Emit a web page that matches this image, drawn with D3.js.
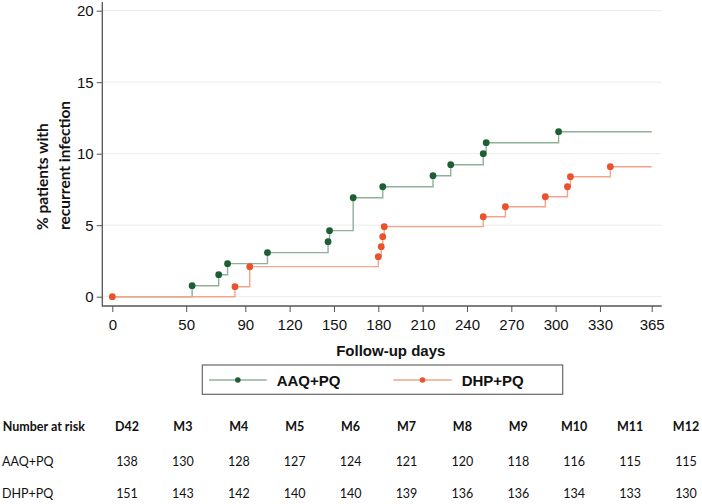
<!DOCTYPE html>
<html>
<head>
<meta charset="utf-8">
<script src="https://cdn.jsdelivr.net/npm/d3@7"></script>
<style>
html,body{margin:0;padding:0;background:#fff;}
svg{display:block;}
</style>
</head>
<body>
<div id="chart"></div>
<script>
// ---- data ----
const aaqDays = [0, 54, 72, 78, 105, 146, 147, 163, 183, 217, 229, 251, 253, 302];
const aaqVals = [0, 0.77, 1.54, 2.31, 3.08, 3.85, 4.62, 6.92, 7.69, 8.46, 9.23, 10.0, 10.77, 11.54];
const dhpDays = [0, 83, 93, 180, 182, 183, 184, 251, 266, 293, 308, 310, 337];
const dhpVals = [0, 0.70, 2.10, 2.80, 3.50, 4.20, 4.90, 5.59, 6.29, 6.99, 7.69, 8.39, 9.09];
const followEnd = 365;
const xTicks = [0, 50, 90, 120, 150, 180, 210, 240, 270, 300, 330, 365];
const yTicks = [0, 5, 10, 15, 20];
const seriesNames = ["AAQ+PQ", "DHP+PQ"];
const riskHeaders = ["D42", "M3", "M4", "M5", "M6", "M7", "M8", "M9", "M10", "M11", "M12"];
const riskAAQ = [138, 130, 128, 127, 124, 121, 120, 118, 116, 115, 115];
const riskDHP = [151, 143, 142, 140, 140, 139, 136, 136, 134, 133, 130];

const W = 702, H = 504;
const svg = d3.select("#chart").append("svg").attr("width", W).attr("height", H);

const x = d3.scaleLinear().domain([0, 365]).range([112.3, 651.7]);
const y = d3.scaleLinear().domain([0, 20]).range([296.7, 10.7]);
const axisX0 = 102.3, axisX1 = 661.7, axisY = 306;

const tickFont = "'Liberation Sans', Arial, sans-serif";
const calFont = "Lato, 'Open Sans', sans-serif";

// gridlines
svg.append("g").selectAll("line").data(yTicks).join("line")
  .attr("x1", axisX0).attr("x2", axisX1)
  .attr("y1", d => y(d)).attr("y2", d => y(d))
  .attr("stroke", "#ececec").attr("stroke-width", 1);

// x axis
const gx = svg.append("g").attr("transform", `translate(0,${axisY})`)
  .call(d3.axisBottom(x).tickValues(xTicks).tickSize(6).tickPadding(7).tickFormat(d3.format("d")));
gx.select(".domain").remove();
gx.selectAll(".tick line").attr("stroke", "#555");
gx.selectAll("text").attr("font-family", tickFont).attr("font-size", 15).attr("fill", "#111");
svg.append("line").attr("x1", axisX0).attr("x2", axisX1).attr("y1", axisY).attr("y2", axisY)
  .attr("stroke", "#555").attr("stroke-width", 1.3);

// y axis
const gy = svg.append("g").attr("transform", `translate(${axisX0},0)`)
  .call(d3.axisLeft(y).tickValues(yTicks).tickSize(5.6).tickPadding(3));
gy.select(".domain").remove();
gy.selectAll(".tick line").attr("stroke", "#555");
gy.selectAll("text").attr("font-family", tickFont).attr("font-size", 15).attr("fill", "#111");
svg.append("line").attr("x1", axisX0).attr("x2", axisX0).attr("y1", 2).attr("y2", axisY + 0.6)
  .attr("stroke", "#555").attr("stroke-width", 1.3);

// axis titles
svg.append("text").attr("x", 390.8).attr("y", 355.5).attr("text-anchor", "middle")
  .attr("font-family", tickFont).attr("font-weight", "bold").attr("font-size", 15).attr("fill", "#111")
  .text("Follow-up days");
const yt = svg.append("text").attr("transform", "translate(0,230) rotate(-90)")
  .attr("font-family", calFont).attr("font-weight", "bold").attr("font-size", 15.5).attr("fill", "#111");
yt.append("tspan").attr("x", 0).attr("y", 47.5).text("% patients with");
yt.append("tspan").attr("x", 0).attr("y", 69.5).text("recurrent infection");

// series
const colors = {
  aaq: {line: "#8fb09a", point: "#1d5e32"},
  dhp: {line: "#f3a48a", point: "#e9522a"}
};
function stepData(days, vals) {
  const pts = days.map((d, i) => [d, vals[i]]);
  pts.push([followEnd, vals[vals.length - 1]]);
  return pts;
}
const line = d3.line().x(d => x(d[0])).y(d => y(d[1])).curve(d3.curveStepAfter);

function drawSeries(days, vals, c, skipFirstPoint) {
  svg.append("path").datum(stepData(days, vals)).attr("d", line)
    .attr("fill", "none").attr("stroke", c.line).attr("stroke-width", 1.4);
  const pts = days.map((d, i) => [d, vals[i]]).filter((p, i) => !(skipFirstPoint && i === 0));
  svg.append("g").selectAll("circle").data(pts).join("circle")
    .attr("cx", d => x(d[0])).attr("cy", d => y(d[1])).attr("r", 3.4)
    .attr("fill", c.point);
}
drawSeries(aaqDays, aaqVals, colors.aaq, true);
drawSeries(dhpDays, dhpVals, colors.dhp, false);

// legend
const lg = svg.append("g");
lg.append("rect").attr("x", 202.3).attr("y", 365).attr("width", 360.4).attr("height", 29.3)
  .attr("fill", "#fff").attr("stroke", "#666").attr("stroke-width", 1.2);
const legendItems = [
  {name: seriesNames[0], c: colors.aaq, x0: 209, x1: 266.7, tx: 276.7},
  {name: seriesNames[1], c: colors.dhp, x0: 393.3, x1: 451.7, tx: 461.7}
];
legendItems.forEach(it => {
  lg.append("line").attr("x1", it.x0).attr("x2", it.x1).attr("y1", 380).attr("y2", 380)
    .attr("stroke", it.c.line).attr("stroke-width", 1.3);
  lg.append("circle").attr("cx", (it.x0 + it.x1) / 2).attr("cy", 380).attr("r", 2.8).attr("fill", it.c.point);
  lg.append("text").attr("x", it.tx).attr("y", 385.5)
    .attr("font-family", tickFont).attr("font-weight", "bold").attr("font-size", 15).attr("fill", "#111")
    .text(it.name);
});

// number at risk table
const cx = d3.scalePoint().domain(riskHeaders).range([127, 686]);
const tg = svg.append("g").attr("font-family", calFont).attr("fill", "#111");
tg.append("text").attr("x", 2.7).attr("y", 431).attr("font-weight", "bold").attr("font-size", 12.5).text("Number at risk");
tg.selectAll(".hd").data(riskHeaders).join("text").attr("class", "hd")
  .attr("x", d => cx(d)).attr("y", 431).attr("text-anchor", "middle")
  .attr("font-weight", "bold").attr("font-size", 12.5).text(d => d);
const rows = [
  {name: seriesNames[0], vals: riskAAQ, y: 466},
  {name: seriesNames[1], vals: riskDHP, y: 497.5}
];
rows.forEach(r => {
  tg.append("text").attr("x", 2).attr("y", r.y).attr("font-size", 12.5).text(r.name);
  tg.append("g").selectAll("text").data(r.vals).join("text")
    .attr("x", (d, i) => cx(riskHeaders[i])).attr("y", r.y).attr("text-anchor", "middle")
    .attr("font-size", 12.5).text(d => d);
});
</script>
</body>
</html>
